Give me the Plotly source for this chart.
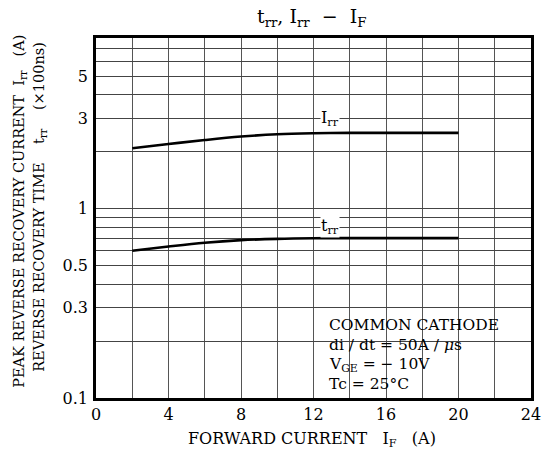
import plotly.graph_objects as go
import math

# Data
if_vals = [2, 4, 6, 8, 10, 12, 14, 16, 18, 20]
irr_vals = [2.09, 2.20, 2.31, 2.41, 2.48, 2.51, 2.52, 2.52, 2.52, 2.52]
trr_vals = [0.600, 0.632, 0.662, 0.683, 0.694, 0.699, 0.700, 0.700, 0.700, 0.700]

y_tickvals = [0.1, 0.2, 0.3, 0.4, 0.5, 0.6, 0.7, 0.8, 0.9, 1, 2, 3, 4, 5, 6, 7, 8]
y_ticktext = ["0.1", "", "0.3", "", "0.5", "", "", "", "", "1", "", "3", "", "5", "", "", ""]
x_tickvals = list(range(0, 25, 2))
x_ticktext = [str(v) if v % 4 == 0 else "" for v in x_tickvals]

FONT = "DejaVu Serif"
L, T = 96, 38
PW, PH = 435, 360.3
W, H = 542, 460

def px(sx):
    return (sx - L) / PW

def py(sy):
    return (T + PH - sy) / PH

fig = go.Figure()
fig.add_trace(go.Scatter(x=if_vals, y=irr_vals, mode="lines", line=dict(color="black", width=2.6, shape="spline"), showlegend=False))
fig.add_trace(go.Scatter(x=if_vals, y=trr_vals, mode="lines", line=dict(color="black", width=2.6, shape="spline"), showlegend=False))

# condition box
fig.add_shape(type="rect", xref="x", yref="y", x0=12, x1=24, y0=-1, y1=math.log10(0.3),
              fillcolor="white", line=dict(color="black", width=1.5), layer="between")

ann = []
ann.append(dict(x=12.9, y=math.log10(3), xref="x", yref="y", text="I<sub>rr</sub>", showarrow=False,
                xanchor="center", yanchor="middle",
                bgcolor="white", font=dict(family=FONT, size=16, color="black"), borderpad=0))
ann.append(dict(x=12.9, y=math.log10(0.81), xref="x", yref="y", text="t<sub>rr</sub>", showarrow=False,
                xanchor="center", yanchor="middle",
                bgcolor="white", font=dict(family=FONT, size=16, color="black"), borderpad=0))
cond = [("COMMON CATHODE", 325), ("di / dt = 50A / <i>μ</i>s", 345), ("V<sub>GE</sub> = − 10V", 365), ("Tc = 25°C", 384)]
for t, sy in cond:
    ann.append(dict(x=px(327), y=py(sy), xref="paper", yref="paper", text=t,
                    showarrow=False, xanchor="left", yanchor="middle",
                    font=dict(family=FONT, size=15.5, color="black")))
# title
ann.append(dict(x=px(312), y=py(17), xref="paper", yref="paper", xanchor="center", yanchor="middle",
                text="t<sub>rr</sub>, I<sub>rr</sub>  −  I<sub>F</sub>", showarrow=False,
                font=dict(family=FONT, size=19, color="black")))
# x title
ann.append(dict(x=px(312), y=py(440), xref="paper", yref="paper", xanchor="center", yanchor="middle",
                text="FORWARD CURRENT   I<sub>F</sub>   (A)", showarrow=False,
                font=dict(family=FONT, size=16, color="black")))
# y titles
ann.append(dict(x=px(20), y=py(212), xref="paper", yref="paper", xanchor="center", yanchor="middle",
                text="PEAK REVERSE RECOVERY CURRENT  I<sub>rr</sub>   (A)", textangle=-90, showarrow=False,
                font=dict(family=FONT, size=14.5, color="black")))
ann.append(dict(x=px(40), y=py(207), xref="paper", yref="paper", xanchor="center", yanchor="middle",
                text="REVERSE RECOVERY TIME    t<sub>rr</sub>    (×100ns)", textangle=-90, showarrow=False,
                font=dict(family=FONT, size=14.5, color="black")))

fig.update_layout(
    width=W, height=H,
    margin=dict(l=L, r=W - L - PW, t=T, b=H - T - PH, autoexpand=False),
    plot_bgcolor="white", paper_bgcolor="white",
    annotations=ann,
    xaxis=dict(range=[0, 24], tickvals=x_tickvals, ticktext=x_ticktext, showgrid=True, automargin=False,
               gridcolor="#555", gridwidth=1, showline=True, linecolor="black", linewidth=2.5, mirror=True,
               ticks="", zeroline=False, tickfont=dict(family=FONT, size=16, color="black")),
    yaxis=dict(type="log", range=[-1, math.log10(8)], tickvals=y_tickvals, ticktext=y_ticktext,
               showgrid=True, gridcolor="#444", gridwidth=1, showline=True, linecolor="black", automargin=False,
               linewidth=2.5, mirror=True, ticks="", ticklabelstandoff=2,
               tickfont=dict(family=FONT, size=16, color="black")),
)
fig.write_html("out.html", config={"displayModeBar": False},
               post_script="document.body.style.margin='0';document.body.style.overflow='hidden';")
